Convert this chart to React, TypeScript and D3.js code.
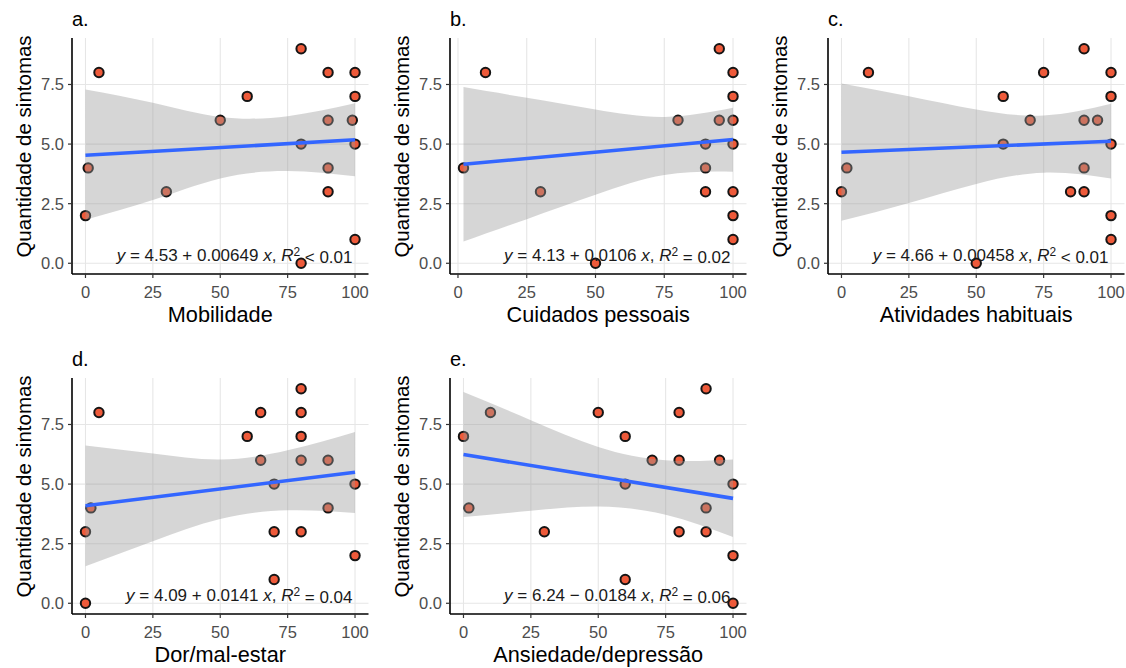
import React from 'react';
import * as d3 from 'd3';

// a. Mobilidade
const mobilidadeX = [0, 1, 5, 30, 50, 60, 80, 80, 80, 90, 90, 90, 90, 99, 100, 100, 100, 100];
const mobilidadeY = [2, 4, 8, 3, 6, 7, 9, 5, 0, 8, 6, 4, 3, 6, 8, 7, 5, 1];
// b. Cuidados pessoais
const cuidadosX = [2, 10, 30, 50, 80, 90, 90, 90, 95, 95, 100, 100, 100, 100, 100, 100, 100];
const cuidadosY = [4, 8, 3, 0, 6, 5, 4, 3, 6, 9, 8, 7, 6, 5, 3, 2, 1];
// c. Atividades habituais
const atividadesX = [0, 2, 10, 50, 60, 60, 70, 75, 85, 90, 90, 90, 90, 95, 100, 100, 100, 100, 100];
const atividadesY = [3, 4, 8, 0, 7, 5, 6, 8, 3, 9, 6, 4, 3, 6, 8, 7, 5, 2, 1];
// d. Dor/mal-estar
const dorX = [0, 0, 2, 5, 60, 65, 65, 70, 70, 70, 80, 80, 80, 80, 80, 90, 90, 100, 100];
const dorY = [0, 3, 4, 8, 7, 8, 6, 5, 3, 1, 9, 8, 7, 6, 3, 6, 4, 5, 2];
// e. Ansiedade/depressão
const ansiedadeX = [0, 2, 10, 30, 50, 60, 60, 60, 70, 80, 80, 80, 90, 90, 90, 95, 100, 100, 100];
const ansiedadeY = [7, 4, 8, 3, 8, 7, 5, 1, 6, 8, 6, 3, 9, 4, 3, 6, 5, 2, 0];

const panelLetters = ['a.', 'b.', 'c.', 'd.', 'e.'];
const xTitles = ['Mobilidade', 'Cuidados pessoais', 'Atividades habituais', 'Dor/mal-estar', 'Ansiedade/depressão'];
const yTitle = 'Quantidade de sintomas';

// fitted lines (from the printed equations)
const intercepts = [4.53, 4.13, 4.66, 4.09, 6.24];
const slopes = [0.00649, 0.0106, 0.00458, 0.0141, -0.0184];
const interceptLabels = ['4.53', '4.13', '4.66', '4.09', '6.24'];
const slopeLabels = ['+ 0.00649', '+ 0.0106', '+ 0.00458', '+ 0.0141', '\u2212 0.0184'];
const r2Labels = ['< 0.01', '= 0.02', '< 0.01', '= 0.04', '= 0.06'];

// confidence band
const bandX = [
  [0, 25, 50, 75, 100],
  [2, 25, 50, 75, 100],
  [0, 25, 50, 75, 100],
  [0, 25, 50, 75, 100],
  [0, 25, 50, 75, 100],
];
const bandLow = [
  [1.83, 2.65, 3.56, 3.87, 3.65],
  [0.91, 1.85, 2.87, 3.7, 3.84],
  [1.78, 2.53, 3.33, 3.8, 3.56],
  [1.55, 2.6, 3.53, 3.9, 3.79],
  [3.62, 3.88, 4.06, 3.71, 2.78],
];
const bandHigh = [
  [7.29, 6.73, 6.14, 6.17, 6.71],
  [7.39, 6.94, 6.45, 6.14, 6.52],
  [7.54, 7.01, 6.45, 6.2, 6.69],
  [6.62, 6.28, 6.03, 6.42, 7.19],
  [8.86, 7.68, 6.56, 6.0, 6.03],
];

const xTicks = [0, 25, 50, 75, 100];
const yTicks = [0, 2.5, 5, 7.5];

const allX = [mobilidadeX, cuidadosX, atividadesX, dorX, ansiedadeX];
const allY = [mobilidadeY, cuidadosY, atividadesY, dorY, ansiedadeY];

const W = 1126;
const H = 668;
const colLeft = [72, 450, 828];
const rowTop = [38, 378];
const PW = 296.5;
const PH = 236;
const FONT = '"Liberation Sans", Arial, Helvetica, sans-serif';

function Panel({ i }: { i: number }) {
  const xs = allX[i];
  const ys = allY[i];
  const left = colLeft[i % 3];
  const top = rowTop[Math.floor(i / 3)];
  const bottom = top + PH;

  const [x0, x1] = d3.extent(xs) as [number, number];
  const [y0, y1] = d3.extent(ys) as [number, number];
  const xp = (x1 - x0) * 0.05;
  const yp = (y1 - y0) * 0.05;
  const x = d3.scaleLinear().domain([x0 - xp, x1 + xp]).range([left, left + PW]);
  const y = d3.scaleLinear().domain([y0 - yp, y1 + yp]).range([bottom, top]);

  const band = bandX[i].map((bx, k) => ({ x: bx, lo: bandLow[i][k], hi: bandHigh[i][k] }));
  const area = d3.area<{ x: number; lo: number; hi: number }>()
    .x(d => x(d.x))
    .y0(d => y(d.lo))
    .y1(d => y(d.hi))
    .curve(d3.curveNatural);

  const fit = [x0, x1].map(v => ({ x: v, y: intercepts[i] + slopes[i] * v }));
  const line = d3.line<{ x: number; y: number }>().x(d => x(d.x)).y(d => y(d.y));

  const fmt = d3.format('.1f');
  const cx = left + PW / 2;
  const cy = top + 108.5;

  return (
    <g>
      {/* grid */}
      {xTicks.map(t => (
        <line key={'gx' + t} x1={x(t)} x2={x(t)} y1={top} y2={bottom} stroke="#e6e6e6" strokeWidth={1.1} />
      ))}
      {yTicks.map(t => (
        <line key={'gy' + t} x1={left} x2={left + PW} y1={y(t)} y2={y(t)} stroke="#e6e6e6" strokeWidth={1.1} />
      ))}

      {/* points */}
      {xs.map((v, k) => (
        <circle key={'p' + k} cx={x(v)} cy={y(ys[k])} r={4.7} fill="#EE5A3A" stroke="#141414" strokeWidth={2} />
      ))}

      {/* smooth */}
      <path d={area(band) || ''} fill="#999999" fillOpacity={0.4} />
      <path d={line(fit) || ''} fill="none" stroke="#3366FF" strokeWidth={3.6} />

      {/* axes */}
      <line x1={left} x2={left} y1={top} y2={bottom} stroke="#000" strokeWidth={1.6} />
      <line x1={left} x2={left + PW} y1={bottom} y2={bottom} stroke="#000" strokeWidth={1.6} />
      {xTicks.map(t => (
        <g key={'tx' + t}>
          <line x1={x(t)} x2={x(t)} y1={bottom} y2={bottom + 4} stroke="#333" strokeWidth={1.2} />
          <text x={x(t)} y={bottom + 24} textAnchor="middle" fontSize={16.5} fill="#4d4d4d" fontFamily={FONT}>{t}</text>
        </g>
      ))}
      {yTicks.map(t => (
        <g key={'ty' + t}>
          <line x1={left - 4} x2={left} y1={y(t)} y2={y(t)} stroke="#333" strokeWidth={1.2} />
          <text x={left - 8} y={y(t)} dy="0.36em" textAnchor="end" fontSize={16.5} fill="#4d4d4d" fontFamily={FONT}>{fmt(t)}</text>
        </g>
      ))}

      {/* titles */}
      <text x={cx} y={bottom + 48} textAnchor="middle" fontSize={21.7} fill="#000" fontFamily={FONT}>{xTitles[i]}</text>
      <text transform={`translate(${left - 41},${cy}) rotate(-90)`} textAnchor="middle" fontSize={20.5} fill="#000" fontFamily={FONT}>{yTitle}</text>
      <text x={left} y={top - 12} fontSize={20} fill="#000" fontFamily={FONT}>{panelLetters[i]}</text>

      {/* equation */}
      <text x={left + PW - 16} y={bottom - 13} textAnchor="end" fontSize={17} fill="#1a1a1a" fontFamily={FONT}>
        <tspan fontStyle="italic">y</tspan>
        <tspan>{` = ${interceptLabels[i]} ${slopeLabels[i]} `}</tspan>
        <tspan fontStyle="italic">x</tspan>
        <tspan>{', '}</tspan>
        <tspan fontStyle="italic">R</tspan>
        <tspan dy="-0.45em" fontSize="0.7em">2</tspan>
        <tspan dy="0.45em">{` ${r2Labels[i]}`}</tspan>
      </text>
    </g>
  );
}

export default function App() {
  return (
    <svg width={W} height={H} style={{ position: 'absolute', left: 0, top: 0, background: '#fff' }}>
      <rect width={W} height={H} fill="#fff" />
      {allX.map((_, i) => <Panel key={i} i={i} />)}
    </svg>
  );
}
